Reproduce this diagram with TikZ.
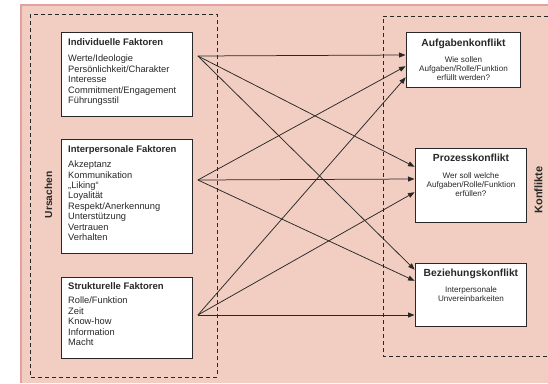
\documentclass[tikz,border=0pt]{standalone}
\usepackage{fontspec}
\setmainfont{Liberation Sans}
\usetikzlibrary{arrows.meta,calc}
\definecolor{bgpink}{RGB}{241,206,193}
\definecolor{edgepink}{RGB}{228,160,158}
\definecolor{ink}{RGB}{40,40,40}
\begin{document}
\begin{tikzpicture}[x=1pt,y=-1pt,
  box/.style={draw=ink, line width=0.9pt, fill=white, anchor=north west, inner sep=0pt},
  dashbox/.style={draw=ink, line width=0.9pt, dash pattern=on 4pt off 3pt},
  lefttxt/.style={anchor=north west, inner sep=0pt, align=left, text=ink, font=\fontsize{9.3}{10.4}\selectfont},
  rtitle/.style={anchor=north, inner sep=0pt, text=ink, font=\bfseries\fontsize{10.3}{12}\selectfont},
  rsub/.style={anchor=north, inner sep=0pt, align=center, text=ink, font=\fontsize{8.1}{9.2}\selectfont},
  conn/.style={draw=ink, line width=0.75pt, -{Triangle[length=6.5pt,width=5pt]}, shorten >=0.5pt},
  sidelabel/.style={rotate=90, inner sep=0pt, text=ink, font=\bfseries}]
\useasboundingbox (0,0) rectangle (548,383);
\fill[bgpink] (21,5) rectangle (548,383);
\draw[edgepink, line width=1.2pt] (21,383) -- (21,5) -- (548,5);
% dashed groups
\draw[dashbox] (30,14) rectangle (217,377);
\draw[dashbox] (548,16) -- (383,16) -- (383,356) -- (548,356);
% left boxes
\node[box, minimum width=131pt, minimum height=84pt] (ind) at (61,32) {};
\node[box, minimum width=131pt, minimum height=114pt] (inter) at (61,139) {};
\node[box, minimum width=131pt, minimum height=81pt] (strukt) at (61,277) {};
% right boxes
\node[box, minimum width=114pt, minimum height=55pt] (auf) at (406,32) {};
\node[box, minimum width=111pt, minimum height=74pt] (proz) at (415,148) {};
\node[box, minimum width=111pt, minimum height=63pt] (bez) at (415,263) {};
% left texts
\node[lefttxt] (indtxt) at ($(ind.north west)+(7,6.6)$) {{\bfseries\fontsize{9.5}{10.4}\selectfont Individuelle Faktoren}\\[5.9pt]
Werte/Ideologie\\Persönlichkeit/Charakter\\Interesse\\Commitment/Engagement\\Führungsstil};
\node[lefttxt] (intertxt) at ($(inter.north west)+(7,6.3)$) {{\bfseries\fontsize{9.5}{10.4}\selectfont Interpersonale Faktoren}\\[4.9pt]
Akzeptanz\\Kommunikation\\„Liking“\\Loyalität\\Respekt/Anerkennung\\Unterstützung\\Vertrauen\\Verhalten};
\node[lefttxt] (strukttxt) at ($(strukt.north west)+(7,5.6)$) {{\bfseries\fontsize{9.5}{10.4}\selectfont Strukturelle Faktoren}\\[3.9pt]
Rolle/Funktion\\Zeit\\Know-how\\Information\\Macht};
% right texts
\node[rtitle] (auft) at ($(auf.north)+(0,6.6)$) {Aufgabenkonflikt};
\node[rsub] (aufs) at ($(auf.north)+(0,24.1)$) {Wie sollen\\Aufgaben/Rolle/Funktion\\erfüllt werden?};
\node[rtitle] (prozt) at ($(proz.north)+(0,6.3)$) {Prozesskonflikt};
\node[rsub] (prozs) at ($(proz.north)+(0,24.1)$) {Wer soll welche\\Aufgaben/Rolle/Funktion\\erfüllen?};
\node[rtitle] (bezt) at ($(bez.north)+(0,6.0)$) {Beziehungskonflikt};
\node[rsub] (bezs) at ($(bez.north)+(0,23.4)$) {Interpersonale\\Unvereinbarkeiten};
% side labels
\node[sidelabel, font=\bfseries\fontsize{10.2}{12}\selectfont] (urs) at (48.5,195) {Ursachen};
\node[sidelabel, font=\bfseries\fontsize{11}{13}\selectfont] (konf) at (538.5,190) {Konflikte};
% sources
\coordinate (s1) at ($(ind.north east)+(5,24)$);
\coordinate (s2) at ($(inter.north east)+(5,41)$);
\coordinate (s3) at ($(strukt.north east)+(5,38)$);
% targets
\coordinate (a1) at ($(auf.north west)+(0,23)$);
\coordinate (a2) at ($(auf.north west)+(0,34)$);
\coordinate (a3) at ($(auf.north west)+(0,45)$);
\coordinate (p1) at ($(proz.north west)+(0,19)$);
\coordinate (p2) at ($(proz.north west)+(0,31)$);
\coordinate (p3) at ($(proz.north west)+(0,44)$);
\coordinate (b1) at ($(bez.north west)+(0,7)$);
\coordinate (b2) at ($(bez.north west)+(0,18)$);
\coordinate (b3) at ($(bez.north west)+(0,52)$);
% connectors
\draw[conn] (s1) -- (a1);
\draw[conn] (s1) -- (p1);
\draw[conn] (s1) -- (b1);
\draw[conn] (s2) -- (a2);
\draw[conn] (s2) -- (p2);
\draw[conn] (s2) -- (b2);
\draw[conn] (s3) -- (a3);
\draw[conn] (s3) -- (p3);
\draw[conn] (s3) -- (b3);
\end{tikzpicture}
\end{document}
